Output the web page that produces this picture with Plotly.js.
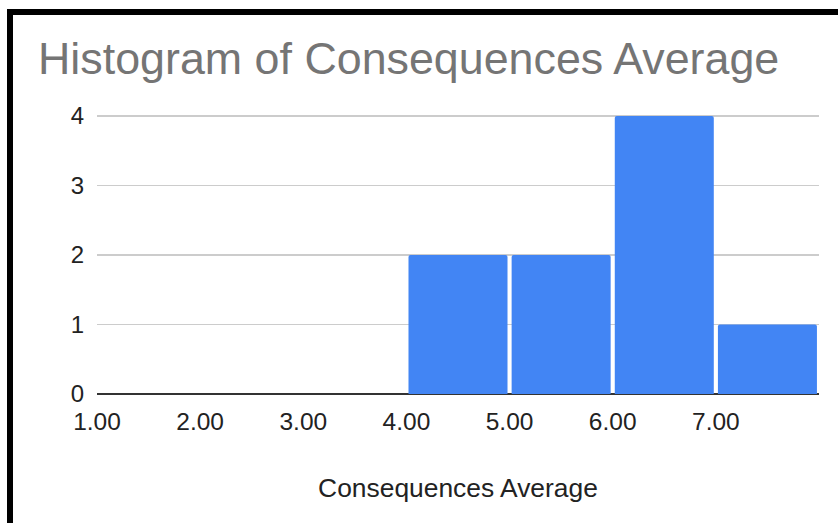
<!DOCTYPE html>
<html>
<head>
<meta charset="utf-8">
<script src="https://cdn.plot.ly/plotly-3.0.1.min.js"></script>
<style>
html,body{margin:0;padding:0;background:#fff;}
#wrap{position:relative;width:838px;height:523px;overflow:hidden;}
#chart{width:838px;height:523px;}
#frame{position:absolute;left:7px;top:9px;right:-10px;bottom:-10px;border-top:6px solid #000;border-left:6px solid #000;pointer-events:none;}
</style>
</head>
<body>
<div id="wrap"><div id="chart"></div><div id="frame"></div></div>
<script>
// Histogram bins (lower edges) and counts
const binStarts = [1, 2, 3, 4, 5, 6, 7];
const binWidth = 1;
const counts = [0, 0, 0, 2, 2, 4, 1];
const xTickVals = [1, 2, 3, 4, 5, 6, 7];
const xTickText = ["1.00", "2.00", "3.00", "4.00", "5.00", "6.00", "7.00"];
const yTickVals = [0, 1, 2, 3, 4];

const chartTitle = "Histogram of Consequences Average";
const xTitle = "Consequences Average";

const trace = {
  type: "bar",
  x: binStarts.map(b => b + binWidth / 2),
  y: counts,
  width: binStarts.map(() => binWidth * 0.96),
  marker: { color: "#4285F4", cornerradius: 2 },
  hoverinfo: "x+y"
};

const layout = {
  width: 838,
  height: 523,
  margin: { l: 97, r: 19, t: 109, b: 129 },
  paper_bgcolor: "#fff",
  plot_bgcolor: "#fff",
  showlegend: false,
  font: { family: "Liberation Sans, Arial, sans-serif", color: "#222" },
  title: {
    text: chartTitle,
    font: { size: 44.8, color: "#757575", family: "Liberation Sans, Arial, sans-serif" },
    xref: "container", yref: "container",
    x: 38 / 838, xanchor: "left",
    y: 1 - 58 / 523, yanchor: "middle"
  },
  xaxis: {
    range: [1, 8],
    tickvals: xTickVals,
    ticktext: xTickText,
    showgrid: false,
    zeroline: false,
    showline: false,
    ticks: "outside", ticklen: 6, tickcolor: "rgba(0,0,0,0)",
    tickfont: { size: 24.5, color: "#222" },
    title: { text: xTitle, font: { size: 26.4, color: "#222" }, standoff: 44 }
  },
  yaxis: {
    range: [0, 4.1],
    tickvals: yTickVals,
    showgrid: true,
    gridcolor: "#cccccc",
    gridwidth: 1.5,
    zeroline: true,
    zerolinecolor: "#333333",
    zerolinewidth: 1.5,
    showline: false,
    ticks: "outside", ticklen: 7, tickcolor: "rgba(0,0,0,0)",
    tickfont: { size: 24, color: "#222" }
  }
};

Plotly.newPlot("chart", [trace], layout, { displayModeBar: false, staticPlot: true });
</script>
</body>
</html>
